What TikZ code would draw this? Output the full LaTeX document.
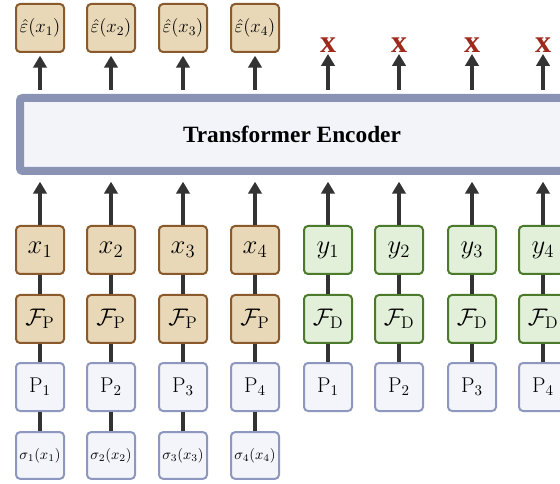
\RequirePackage{fix-cm}
\documentclass[tikz,border=0pt]{standalone}
\usepackage{amsmath}
\usepackage{amssymb}
\usepackage{fontspec}
\newfontfamily\headfont{Liberation Serif}
\usepackage{tikz}
\usetikzlibrary{arrows.meta}
\usetikzlibrary{positioning}
\definecolor{TanFill}{HTML}{E8D8B8}
\definecolor{TanLine}{HTML}{8A5A2C}
\definecolor{GreenFill}{HTML}{E2F0D9}
\definecolor{GreenLine}{HTML}{4C7A2C}
\definecolor{PosFill}{HTML}{F3F5FB}
\definecolor{PosLine}{HTML}{8E97BD}
\definecolor{EncFill}{HTML}{F3F4FA}
\definecolor{EncLine}{HTML}{8B93B5}
\definecolor{CrossRed}{HTML}{9E2A1E}
\definecolor{LinkGray}{HTML}{333333}

\begin{document}
\begin{tikzpicture}[x=0.75pt,y=-0.75pt,
    box/.style={rounded corners=3pt, line width=1.5pt, minimum width=36pt,
      minimum height=36pt, inner sep=0pt},
    tanbox/.style={box, fill=TanFill, draw=TanLine},
    greenbox/.style={box, fill=GreenFill, draw=GreenLine},
    posbox/.style={box, fill=PosFill, draw=PosLine},
    link/.style={draw=LinkGray, line width=3pt},
    up/.style={link, -{Triangle[width=10pt,length=9pt]}}]

  \useasboundingbox (0,0) rectangle (560,484);

  % encoder block
  \node[draw=EncLine, fill=EncFill, line width=6pt, rounded corners=2pt,
    minimum width=408pt, minimum height=54.75pt] (enc) at (292,134.5)
    {\headfont\fontsize{17.5}{20}\selectfont\bfseries Transformer Encoder};

  % observed points
  \foreach \i/\cx in {1/40,2/111,3/183,4/255} {
    \node[tanbox] (e\i) at (\cx,28)
      {\fontsize{14}{16}\selectfont$\hat{\varepsilon}(x_{\i})$};
    \node[tanbox] (x\i) at (\cx,250) {\fontsize{20}{22}\selectfont$x_{\i}$};
    \node[tanbox] (f\i) at (\cx,319)
      {\fontsize{18}{20}\selectfont$\mathcal{F}_{\mathrm{P}}$};
    \node[posbox] (p\i) at (\cx,387)
      {\fontsize{16}{18}\selectfont$\mathrm{P}_{\i}$};
    \node[posbox, minimum height=35pt] (s\i) at (\cx,455.5)
      {\fontsize{11}{13}\selectfont$\sigma_{\i}(x_{\i})$};
    \draw[link] (x\i) -- (f\i);
    \draw[link] (f\i) -- (p\i);
    \draw[link] (p\i) -- (s\i);
    \draw[up, shorten >=5pt] (x\i) -- (x\i |- enc.south);
    \draw[up, shorten <=3pt, shorten >=2pt] (e\i |- enc.north) -- (e\i);
  }

  % query points
  \foreach \i/\cx in {1/328,2/399,3/472,4/543} {
    \node[text=CrossRed, inner sep=1pt] (c\i) at (\cx,45)
      {\headfont\fontsize{24}{26}\selectfont\bfseries x};
    \node[greenbox] (y\i) at (\cx,250) {\fontsize{20}{22}\selectfont$y_{\i}$};
    \node[greenbox] (d\i) at (\cx,319)
      {\fontsize{18}{20}\selectfont$\mathcal{F}_{\mathrm{D}}$};
    \node[posbox] (q\i) at (\cx,387)
      {\fontsize{16}{18}\selectfont$\mathrm{P}_{\i}$};
    \draw[link] (y\i) -- (d\i);
    \draw[link] (d\i) -- (q\i);
    \draw[up, shorten >=5pt] (y\i) -- (y\i |- enc.south);
    \draw[up, shorten <=3pt] (c\i |- enc.north) -- (c\i);
  }
\end{tikzpicture}
\end{document}
